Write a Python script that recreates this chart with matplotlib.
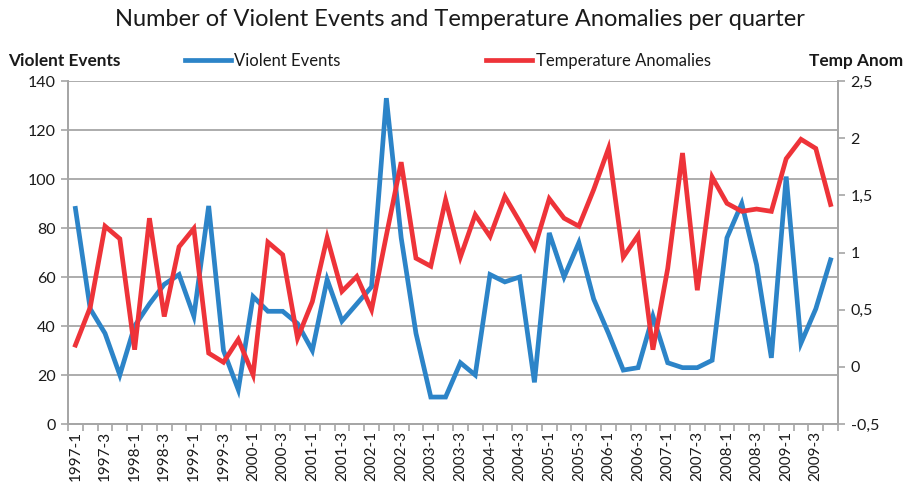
import numpy as np
import matplotlib
matplotlib.use("Agg")
import matplotlib.pyplot as plt
from matplotlib.ticker import FixedLocator, FuncFormatter

plt.rcParams['font.family'] = ['Lato', 'DejaVu Sans']

# quarters 1997-1 .. 2009-4
years = list(range(1997, 2010))
quarters = ["%d-%d" % (y, q) for y in years for q in range(1, 5)]

violent_events = [88, 47, 37, 20, 40, 49, 57, 61, 44, 89,
                  30, 14, 52, 46, 46, 41, 30, 59, 42, 49,
                  56, 133, 76, 37, 11, 11, 25, 20, 61, 58,
                  60, 17, 78, 60, 74, 51, 37, 22, 23, 44,
                  25, 23, 23, 26, 76, 90, 65, 27, 101, 33,
                  47, 67]

temp_anom = [0.19, 0.52, 1.23, 1.12, 0.15, 1.30, 0.44, 1.05, 1.21, 0.12,
             0.04, 0.24, -0.07, 1.09, 0.98, 0.25, 0.57, 1.13, 0.66, 0.79,
             0.50, 1.15, 1.79, 0.95, 0.88, 1.46, 0.96, 1.33, 1.14, 1.49,
             1.27, 1.04, 1.47, 1.30, 1.23, 1.55, 1.91, 0.96, 1.15, 0.15,
             0.86, 1.87, 0.67, 1.66, 1.43, 1.36, 1.38, 1.36, 1.82, 1.99,
             1.91, 1.42]

blue = '#2C84C8'
red = '#EE3339'
grid_c = '#A6A6A6'
txt_c = '#1A1A1A'

fig = plt.figure(figsize=(9.07, 4.90), dpi=100)
ax1 = fig.add_axes([68 / 907, 1 - 424 / 490, 770 / 907, 343 / 490])
ax2 = ax1.twinx()

x = np.arange(len(quarters))
ln1, = ax1.plot(x, violent_events, '-', c=blue, lw=3.4, label='Violent Events',
                solid_joinstyle='miter')
ln2, = ax2.plot(x, temp_anom, '-', c=red, lw=3.4, label='Temperature Anomalies',
                solid_joinstyle='miter')
ax2.set_zorder(ax1.get_zorder() + 1)
ax2.patch.set_visible(False)

ax1.set_xlim(-0.5, len(quarters) - 0.5)
ax1.set_ylim(0, 140)
ax1.set_yticks(np.arange(0, 141, 20))
ax2.set_ylim(-0.5, 2.5)
ax2.set_yticks(np.arange(-0.5, 2.51, 0.5))
ax2.yaxis.set_major_formatter(FuncFormatter(lambda v, p: ('%g' % round(v, 2)).replace('.', ',')))

# category ticks at boundaries, labels every other quarter
ax1.xaxis.set_major_locator(FixedLocator(x[::2]))
ax1.set_xticklabels(quarters[::2], rotation=90)
ax1.xaxis.set_minor_locator(FixedLocator(np.arange(-0.5, len(quarters), 1)))
ax1.tick_params(axis='x', which='major', length=0, pad=5, labelsize=11, colors=txt_c)
ax1.tick_params(axis='x', which='minor', length=5, width=1.2, color=grid_c)

ax1.grid(True, axis='y', color=grid_c, lw=1.3)
ax1.set_axisbelow(True)
ax1.tick_params(axis='y', length=5, width=1.2, color=grid_c, labelsize=11.5,
                labelcolor=txt_c, pad=4)
ax2.tick_params(axis='y', length=5, width=1.2, color=grid_c, labelsize=11.5,
                labelcolor=txt_c, pad=4)

for a in (ax1, ax2):
    a.spines['top'].set_visible(False)
    for s in ('left', 'right', 'bottom'):
        a.spines[s].set_color(grid_c)
        a.spines[s].set_linewidth(1.3)

fig.text(0.507, 1 - 19 / 490, 'Number of Violent Events and Temperature Anomalies per quarter',
         ha='center', va='center', fontsize=17, color=txt_c)
fig.text(8 / 907, 1 - 61 / 490, 'Violent Events', ha='left', va='center',
         fontsize=12.4, fontweight='bold', color=txt_c)
fig.text(903 / 907, 1 - 61 / 490, 'Temp Anom', ha='right', va='center',
         fontsize=12.4, fontweight='bold', color=txt_c)

fig.legend(handles=[ln1, ln2], loc='center left', bbox_to_anchor=(185 / 907, 1 - 61 / 490),
           ncol=2, frameon=False, fontsize=12, handlelength=2.75, handletextpad=0.2,
           columnspacing=8.75, borderpad=0, borderaxespad=0, labelcolor=txt_c)

fig.savefig('out.png', dpi=100)
